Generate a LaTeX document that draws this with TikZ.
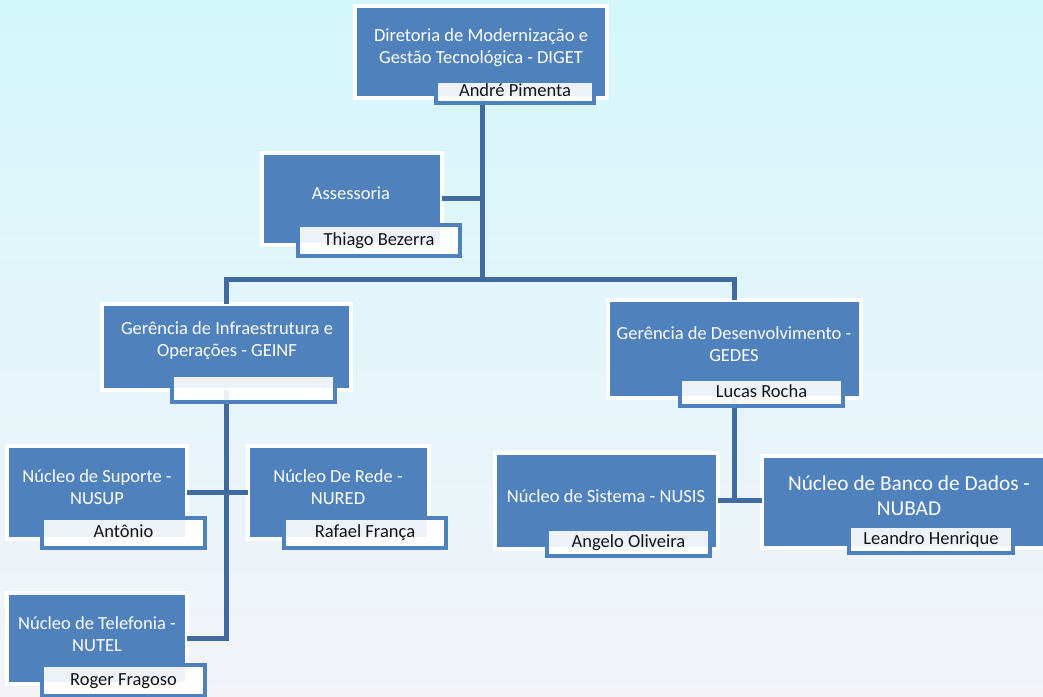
\documentclass[tikz,border=0pt]{standalone}
\usepackage{fontspec}
\setmainfont{Carlito}
\definecolor{boxblue}{RGB}{79,129,189}
\definecolor{linecol}{RGB}{65,106,158}
\definecolor{bgtop}{RGB}{212,247,251}
\definecolor{bgmid}{RGB}{236,250,252}
\definecolor{bgbot}{RGB}{243,243,248}
\definecolor{nametxt}{RGB}{20,20,20}
\begin{document}
\begin{tikzpicture}[x=1pt,y=-1pt,
  mainbox/.style={rectangle, draw=white, line width=4pt, fill=boxblue, inner sep=0pt, outer sep=0pt},
  namebox/.style={rectangle, draw=boxblue, line width=4pt, fill=white, fill opacity=0.9, text opacity=1, inner sep=0pt, outer sep=0pt, text=nametxt, font=\fontsize{18.5}{20}\selectfont, text height=13pt, text depth=4pt},
  maintext/.style={text=white, align=center, inner sep=0pt, font=\fontsize{18.5}{22}\selectfont},
  bigtext/.style={text=white, align=center, inner sep=0pt, font=\fontsize{21.3}{25}\selectfont},
  conn/.style={draw=linecol, line width=5pt}]
\clip (0,0) rectangle (1043,696);
\shade[top color=bgtop, middle color=bgmid, bottom color=bgbot] (0,0) rectangle (1043,696);

% main boxes
\node[mainbox, minimum width=252pt, minimum height=92pt] (diget) at (481,52) {};
\node[mainbox, minimum width=179.5pt, minimum height=92.5pt] (asse) at (351.75,198.75) {};
\node[mainbox, minimum width=249.5pt, minimum height=86.5pt] (geinf) at (226.25,346.75) {};
\node[mainbox, minimum width=253.5pt, minimum height=98pt] (gedes) at (734.25,349) {};
\node[mainbox, minimum width=180pt, minimum height=92.5pt] (nusup) at (96.5,492.25) {};
\node[mainbox, minimum width=180.5pt, minimum height=92.5pt] (nured) at (338.25,492.25) {};
\node[mainbox, minimum width=180pt, minimum height=91.5pt] (nutel) at (96.5,638.25) {};
\node[mainbox, minimum width=223pt, minimum height=95.5pt] (nusis) at (606.5,500.75) {};
\node[mainbox, minimum width=298pt, minimum height=92pt] (nubad) at (911,502) {};

% connectors
\coordinate (j1) at (482,279);
\draw[conn] (diget.south -| j1) -- (j1);
\draw[conn] (asse.east) -- (asse.east -| j1);
\draw[conn] (geinf.north) |- (j1) -| (gedes.north);
\draw[conn] (geinf.south) |- (nutel.east);
\draw[conn] (nusup.east) -- (nured.west);
\draw[conn] (gedes.south) -- (gedes.south |- nusis.east);
\draw[conn] (nusis.east) -- (nusis.east -| nubad.west);

% main texts
\node[maintext] (diget-t) at (481,48) {Diretoria de Modernização e\\Gestão Tecnológica - DIGET};
\node[maintext] (asse-t) at (351,193) {Assessoria};
\node[maintext] (geinf-t) at (227,340.5) {Gerência de Infraestrutura e\\Operações - GEINF};
\node[maintext] (gedes-t) at (734,344.5) {Gerência de Desenvolvimento -\\GEDES};
\node[maintext] (nusup-t) at (97,487) {Núcleo de Suporte -\\NUSUP};
\node[maintext] (nured-t) at (338,487) {Núcleo De Rede -\\NURED};
\node[maintext] (nutel-t) at (97,634.5) {Núcleo de Telefonia -\\NUTEL};
\node[maintext] (nusis-t) at (606,496) {Núcleo de Sistema - NUSIS};
\node[bigtext] (nubad-t) at (909,496) {Núcleo de Banco de Dados -\\NUBAD};

% name boxes
\node[namebox, minimum width=158pt, minimum height=22pt] (diget-n) at (515,92) {André Pimenta};
\node[namebox, minimum width=162pt, minimum height=31pt] (asse-n) at (379,240.5) {Thiago Bezerra};
\node[namebox, minimum width=163pt, minimum height=27pt] (geinf-n) at (253.5,388.5) {};
\node[namebox, minimum width=163pt, minimum height=27pt] (gedes-n) at (761.5,392.5) {Lucas Rocha};
\node[namebox, minimum width=163pt, minimum height=30pt] (nusup-n) at (123.5,533) {Antônio};
\node[namebox, minimum width=162pt, minimum height=30pt] (nured-n) at (365,533) {Rafael França};
\node[namebox, minimum width=163pt, minimum height=31pt] (nutel-n) at (123.5,680.5) {Roger Fragoso};
\node[namebox, minimum width=163pt, minimum height=27pt] (nusis-n) at (628.5,542.5) {Angelo Oliveira};
\node[namebox, minimum width=164pt, minimum height=27pt] (nubad-n) at (931,539.5) {Leandro Henrique};
\end{tikzpicture}
\end{document}
